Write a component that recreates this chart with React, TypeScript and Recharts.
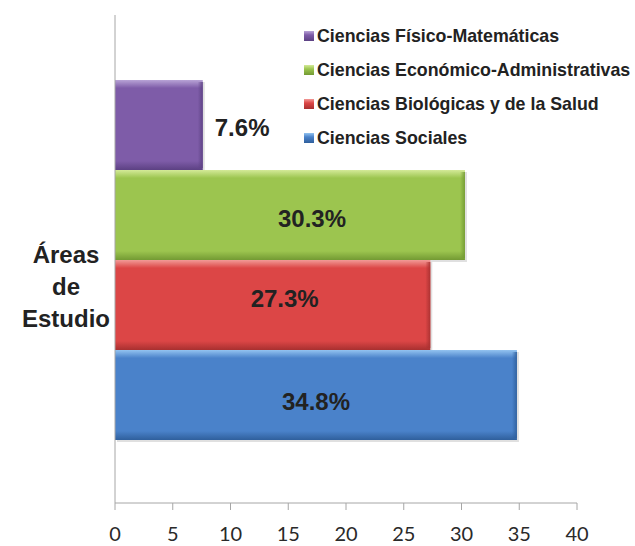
import { Bar, BarChart, LabelList, XAxis, YAxis } from "recharts";

const CATEGORIES = ["Áreas de Estudio"];
const SERIES_NAMES = [
  "Ciencias Físico-Matemáticas",
  "Ciencias Económico-Administrativas",
  "Ciencias Biológicas y de la Salud",
  "Ciencias Sociales"
];
const SERIES_VALUES = [7.6, 30.3, 27.3, 34.8];
const X_TICKS = [0, 5, 10, 15, 20, 25, 30, 35, 40];

const KEYS = ["fm", "ea", "bs", "cs"];
const COLORS = [
  { main: "#7e5ca8", light: "#b8a3d6", dark: "#5c4183" },
  { main: "#9cc54f", light: "#d4ea98", dark: "#739a33" },
  { main: "#dc4646", light: "#f29a97", dark: "#a83030" },
  { main: "#4a82ca", light: "#93c3f0", dark: "#2f5f9c" }
];
const LABEL_POS = ["right", "center", "center", "center"] as const;
const LABEL_DX = [0, 22, 12, 0];
const LABEL_DY = [2, 3, -7, 6];
const FONT = "'Liberation Sans', Arial, sans-serif";

const data = CATEGORIES.map((area) => {
  const row: Record<string, string | number> = { area };
  KEYS.forEach((k, i) => {
    row[k] = SERIES_VALUES[i];
  });
  return row;
});

function BevelBar(props: any, i: number) {
  const { x, y, width, height } = props;
  const c = COLORS[i];
  const id = `grad${i}`;
  return (
    <g>
      <defs>
        <linearGradient id={id} x1="0" y1="0" x2="0" y2="1">
          <stop offset="0%" stopColor={c.light} />
          <stop offset="9%" stopColor={c.main} />
          <stop offset="90%" stopColor={c.main} />
          <stop offset="100%" stopColor={c.dark} />
        </linearGradient>
        <linearGradient id={`${id}h`} x1="0" y1="0" x2="1" y2="0">
          <stop offset="0%" stopColor={c.dark} stopOpacity={0} />
          <stop offset="100%" stopColor={c.dark} stopOpacity={0.9} />
        </linearGradient>
      </defs>
      <rect x={x + 2} y={y + 2} width={width} height={height} fill="#000" opacity={0.12} />
      <rect x={x} y={y} width={width} height={height} fill={`url(#${id})`} />
      <rect x={x + width - 5} y={y + 2} width={5} height={height - 4} fill={`url(#${id}h)`} />
    </g>
  );
}

export default function App() {
  return (
    <div style={{ position: "absolute", left: 0, top: 0, width: 635, height: 546, background: "#fff" }}>
      <BarChart
        width={635}
        height={546}
        data={data}
        layout="vertical"
        margin={{ top: 15, right: 58, left: 107, bottom: 13 }}
        barCategoryGap={65}
        barGap={0}
      >
        <XAxis
          type="number"
          domain={[0, 40]}
          ticks={X_TICKS}
          interval={0}
          height={30}
          stroke="#a6a6a6"
          tickSize={7}
          tickMargin={17}
          tick={{ fill: "#2a2a2a", fontSize: 20, fontFamily: "Lato, 'Open Sans', sans-serif" }}
        />
        <YAxis type="category" dataKey="area" width={8} tick={false} stroke="#a6a6a6" />
        {KEYS.map((k, i) => (
          <Bar
            key={k}
            dataKey={k}
            name={SERIES_NAMES[i]}
            isAnimationActive={false}
            shape={(p: any) => BevelBar(p, i)}
          >
            <LabelList
              dataKey={k}
              position={LABEL_POS[i]}
              offset={12}
              formatter={(v: any) => `${v}%`}
              fill="#222"
              fontSize={24}
              fontWeight="bold"
              fontFamily={FONT}
              dx={LABEL_DX[i]}
              dy={LABEL_DY[i]}
            />
          </Bar>
        ))}
      </BarChart>
      <div style={{ position: "absolute", left: 304, top: 19, fontFamily: FONT }}>
        {SERIES_NAMES.map((name, i) => (
          <div
            key={name}
            style={{ display: "flex", alignItems: "center", height: 34, fontSize: 17.8, fontWeight: "bold", color: "#222", whiteSpace: "nowrap" }}
          >
            <span
              style={{
                width: 10,
                height: 10,
                marginRight: 3,
                background: `linear-gradient(${COLORS[i].light}, ${COLORS[i].main} 40%, ${COLORS[i].dark})`
              }}
            />
            {name}
          </div>
        ))}
      </div>
      <div
        style={{
          position: "absolute",
          left: 10,
          top: 239,
          width: 112,
          textAlign: "center",
          fontFamily: FONT,
          fontWeight: "bold",
          fontSize: 24,
          lineHeight: "32px",
          color: "#222"
        }}
      >
        Áreas
        <br />
        de
        <br />
        Estudio
      </div>
    </div>
  );
}
